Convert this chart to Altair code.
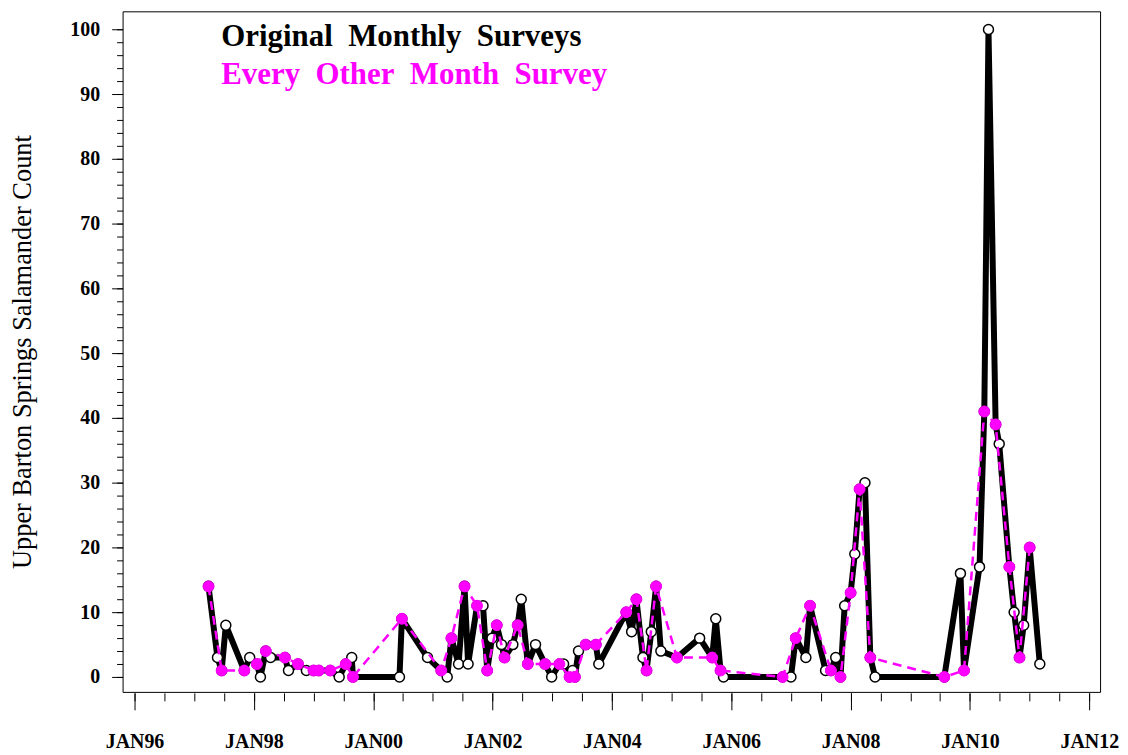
import altair as alt
import pandas as pd

# ---- data (decimal years, counts) ----
monthly_year = [1997.24, 1997.39, 1997.46, 1997.53, 1997.84, 1997.93, 1998.05, 1998.11, 1998.20, 1998.28,
                1998.52, 1998.58, 1998.74, 1998.88, 1999.00, 1999.09, 1999.28, 1999.43, 1999.54, 1999.64,
                1999.66, 2000.44, 2000.48, 2000.91, 2001.14, 2001.24, 2001.31, 2001.43, 2001.53, 2001.59,
                2001.74, 2001.84, 2001.91, 2001.99, 2002.07, 2002.15, 2002.20, 2002.34, 2002.42, 2002.48,
                2002.59, 2002.72, 2002.88, 2002.99, 2003.12, 2003.19, 2003.29, 2003.34, 2003.38, 2003.44,
                2003.56, 2003.73, 2003.78, 2004.24, 2004.33, 2004.41, 2004.52, 2004.58, 2004.66, 2004.74,
                2004.82, 2005.09, 2005.47, 2005.68, 2005.74, 2005.82, 2005.87, 2006.86, 2007.00, 2007.08,
                2007.25, 2007.32, 2007.58, 2007.67, 2007.75, 2007.83, 2007.90, 2008.00, 2008.07, 2008.15,
                2008.24, 2008.33, 2008.41, 2009.57, 2009.84, 2009.90, 2010.16, 2010.24, 2010.31, 2010.43,
                2010.49, 2010.66, 2010.74, 2010.83, 2010.90, 2011.00, 2011.17]
monthly_count = [14, 3, 1, 8, 1, 3, 2, 0, 4, 3,
                 3, 1, 2, 1, 1, 1, 1, 0, 2, 3,
                 0, 0, 9, 3, 1, 0, 6, 2, 14, 2,
                 11, 11, 1, 6, 8, 5, 3, 5, 8, 12,
                 2, 5, 2, 0, 2, 2, 0, 1, 0, 4,
                 5, 5, 2, 10, 7, 12, 3, 1, 7, 14,
                 4, 3, 6, 3, 9, 1, 0, 0, 0, 6,
                 3, 11, 1, 1, 3, 0, 11, 13, 19, 29,
                 30, 3, 0, 0, 16, 1, 17, 41, 100, 39,
                 36, 17, 10, 3, 8, 20, 2]

bimonth_year = [1997.24, 1997.46, 1997.84, 1998.05, 1998.20, 1998.52, 1998.74, 1999.00, 1999.09, 1999.28,
                1999.54, 1999.66, 2000.48, 2001.14, 2001.31, 2001.53, 2001.74, 2001.91, 2002.07, 2002.20,
                2002.42, 2002.59, 2002.88, 2003.12, 2003.29, 2003.38, 2003.56, 2003.73, 2004.24, 2004.41,
                2004.58, 2004.74, 2005.09, 2005.68, 2005.82, 2006.86, 2007.08, 2007.32, 2007.67, 2007.83,
                2008.00, 2008.15, 2008.33, 2009.57, 2009.90, 2010.24, 2010.43, 2010.66, 2010.83, 2011.00]
bimonth_count = [14, 1, 1, 2, 4, 3, 2, 1, 1, 1,
                 2, 0, 9, 1, 6, 14, 11, 1, 8, 3,
                 8, 2, 2, 2, 0, 0, 5, 5, 10, 12,
                 1, 14, 3, 3, 1, 0, 6, 11, 1, 0,
                 13, 29, 3, 0, 1, 41, 39, 17, 3, 20]

legend_labels = ["Original\u2002Monthly\u2002Surveys", "Every\u2002Other\u2002Month\u2002Survey"]
legend_colors = ["#000000", "#ff00ff"]

x_major_ticks = list(range(1996, 2013, 2))
x_minor_ticks = [1996 + 0.5 * i for i in range(33)]
y_major_ticks = list(range(0, 101, 10))
y_minor_ticks = list(range(0, 101, 2))

monthly = pd.DataFrame({"year": monthly_year, "count": monthly_count})
bimonth = pd.DataFrame({"year": bimonth_year, "count": bimonth_count})

FONT = "Liberation Serif"
x_scale = alt.Scale(domain=[1995.8, 2012.18], nice=False, zero=False)
y_scale = alt.Scale(domain=[-2.3, 102.8], nice=False, zero=False)

x_major = alt.Axis(
    orient="bottom", values=x_major_ticks,
    labelExpr="'JAN' + slice(toString(datum.value), 2)",
    tickSize=17, tickColor="black", tickWidth=1,
    labelFont=FONT, labelFontSize=20, labelFontWeight="bold", labelColor="black",
    labelPadding=22, labelOverlap=False, labelFlush=False, labelBound=False,
    domain=False, grid=False, title=None, offset=1,
)
x_minor = alt.Axis(
    orient="bottom", values=x_minor_ticks, labels=False,
    tickSize=8, tickColor="black", tickWidth=1,
    domain=False, grid=False, title=None, offset=1,
)
y_major = alt.Axis(
    orient="left", values=y_major_ticks,
    tickSize=11, tickColor="black", tickWidth=1,
    labelFont=FONT, labelFontSize=20, labelFontWeight="bold", labelColor="black",
    labelPadding=12, labelOverlap=False, labelFlush=False, labelBound=False,
    domain=False, grid=False,
    title="Upper Barton Springs Salamander Count",
    titleFont=FONT, titleFontSize=26.5, titleFontWeight="normal", titleColor="black",
    titlePadding=33,
)
y_minor = alt.Axis(
    orient="left", values=y_minor_ticks, labels=False,
    tickSize=6, tickColor="black", tickWidth=1,
    domain=False, grid=False, title=None,
)

black_line = alt.Chart(monthly).mark_line(color="black", strokeWidth=6, strokeJoin="round").encode(
    x=alt.X("year:Q", scale=x_scale, axis=x_major),
    y=alt.Y("count:Q", scale=y_scale, axis=y_major),
    order="year:Q")
black_pts = alt.Chart(monthly).mark_point(
    shape="circle", filled=True, fill="white", stroke="black", strokeWidth=1.5, size=100, opacity=1
).encode(
    x=alt.X("year:Q", scale=x_scale, axis=x_minor),
    y=alt.Y("count:Q", scale=y_scale, axis=y_minor))
mag_line = alt.Chart(bimonth).mark_line(color="#ff00ff", strokeWidth=2.5, strokeDash=[9, 6]).encode(
    x=alt.X("year:Q", scale=x_scale, axis=None),
    y=alt.Y("count:Q", scale=y_scale, axis=None),
    order="year:Q")
mag_pts = alt.Chart(bimonth).mark_point(
    shape="circle", filled=True, fill="#ff00ff", stroke="#ff00ff", strokeWidth=1, size=120, opacity=1
).encode(
    x=alt.X("year:Q", scale=x_scale, axis=None),
    y=alt.Y("count:Q", scale=y_scale, axis=None))

leg1 = alt.Chart(pd.DataFrame({"label": [legend_labels[0]]})).mark_text(
    font=FONT, fontSize=31, fontWeight="bold", align="left", baseline="alphabetic",
    color=legend_colors[0]
).encode(text="label:N", x=alt.value(99), y=alt.value(35))
leg2 = alt.Chart(pd.DataFrame({"label": [legend_labels[1]]})).mark_text(
    font=FONT, fontSize=31, fontWeight="bold", align="left", baseline="alphabetic",
    color=legend_colors[1]
).encode(text="label:N", x=alt.value(99), y=alt.value(73))

chart = alt.layer(black_line, black_pts, mag_line, mag_pts, leg1, leg2).resolve_scale(
    x="shared", y="shared"
).resolve_axis(
    x="independent", y="independent"
).properties(
    width=981, height=683,
    autosize=alt.AutoSizeParams(type="none"),
    padding={"left": 115, "top": 2, "right": 20, "bottom": 60},
    background="white",
).configure_view(stroke="black", strokeWidth=1)

chart.save("out.html", embed_options={"renderer": "svg", "actions": False})
